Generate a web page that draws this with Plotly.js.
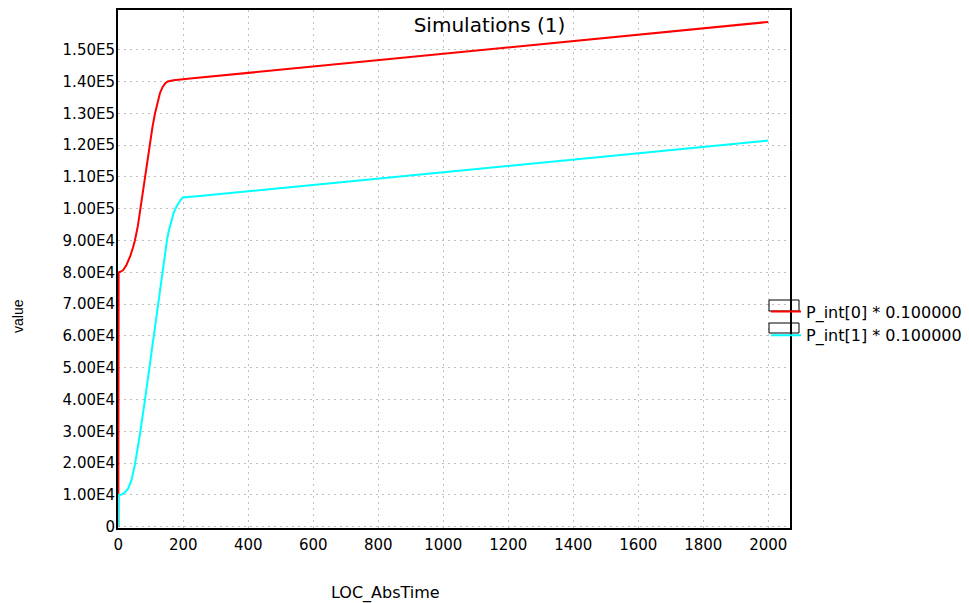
<!DOCTYPE html>
<html>
<head>
<meta charset="utf-8">
<script src="https://cdn.plot.ly/plotly-3.0.1.min.js"></script>
<style>html,body{margin:0;padding:0;background:#fff;}#chart{width:969px;height:603px;}</style>
</head>
<body>
<div id="chart"></div>
<script>
// Series 0: P_int[0] * 0.100000
var tRed = [0, 1, 5, 15, 25, 36, 45, 51, 60, 67, 75, 82, 90, 97.5, 105, 113, 120, 128, 136, 144, 152, 159, 170, 221, 2000];
var vRed = [0, 80000, 80100, 80700, 82300, 84900, 87700, 90000, 94500, 99600, 104800, 110000, 115300, 120600, 125600, 130000, 133400, 136300, 138200, 139400, 140000, 140200, 140400, 140900, 158700];
// Series 1: P_int[1] * 0.100000
var tCyan = [0, 1, 10, 20, 30, 40, 51, 60, 67, 82, 97.5, 113, 128, 143.6, 150, 156, 163, 170, 178, 185, 192, 198, 250, 2000];
var vCyan = [0, 10000, 10150, 10800, 12000, 14500, 19500, 25000, 29400, 39900, 51500, 62900, 74400, 86000, 90300, 93300, 96300, 98600, 100500, 101800, 102800, 103500, 104000, 121400];
var seriesNames = ["P_int[0] * 0.100000", "P_int[1] * 0.100000"];
var seriesColors = ["#ff0000", "#00ffff"];
var yTickVals = [0, 10000, 20000, 30000, 40000, 50000, 60000, 70000, 80000, 90000, 100000, 110000, 120000, 130000, 140000, 150000];
var yTickText = ["0", "1.00E4", "2.00E4", "3.00E4", "4.00E4", "5.00E4", "6.00E4", "7.00E4", "8.00E4", "9.00E4", "1.00E5", "1.10E5", "1.20E5", "1.30E5", "1.40E5", "1.50E5"];
var xTickVals = [0, 200, 400, 600, 800, 1000, 1200, 1400, 1600, 1800, 2000];
var chartTitle = "Simulations (1)";
var xLabel = "LOC_AbsTime";
var yLabel = "value";

var L = 118, R = 790, T = 10, B = 528;
function px(x){ return (x - L) / (R - L); }
function py(y){ return (B - y) / (B - T); }

var traces = [
  {x: tRed, y: vRed, type: 'scatter', mode: 'lines', name: seriesNames[0], line: {color: seriesColors[0], width: 2}},
  {x: tCyan, y: vCyan, type: 'scatter', mode: 'lines', name: seriesNames[1], line: {color: seriesColors[1], width: 2}}
];

var font = "DejaVu Sans, sans-serif";
var layout = {
  width: 969, height: 603,
  margin: {l: L, r: 969 - R, t: T, b: 603 - B, pad: 0, autoexpand: false},
  paper_bgcolor: '#ffffff', plot_bgcolor: '#ffffff',
  font: {family: font, size: 15, color: '#000'},
  title: {text: chartTitle, font: {family: font, size: 20, color: '#000'}, x: 489.5/969, xanchor: 'center', xref: 'container', y: 1 - 25/603, yanchor: 'middle', yref: 'container'},
  showlegend: true,
  legend: {x: px(766), xanchor: 'left', y: py(294.5), yanchor: 'top', bgcolor: 'rgba(0,0,0,0)', borderwidth: 0, font: {family: font, size: 16, color: '#000'}, itemwidth: 30, tracegroupgap: 0},
  xaxis: {
    range: [-1, 2067], tickvals: xTickVals, ticks: '', showline: true, linecolor: '#000', linewidth: 2, mirror: true,
    showgrid: true, gridcolor: '#c0c0c0', griddash: '2px,4px', gridwidth: 1, zeroline: false,
    tickfont: {family: font, size: 15, color: '#000'}, ticklabelstandoff: 2
  },
  yaxis: {
    range: [-380, 162460], tickvals: yTickVals, ticktext: yTickText, ticks: '', showline: true, linecolor: '#000', linewidth: 2, mirror: true,
    showgrid: true, gridcolor: '#c0c0c0', griddash: '2px,4px', gridwidth: 1, zeroline: false,
    tickfont: {family: font, size: 15, color: '#000'}, ticklabelstandoff: -2
  },
  annotations: [
    {text: xLabel, xref: 'paper', yref: 'paper', x: px(385), y: py(593), xanchor: 'center', yanchor: 'middle', showarrow: false, font: {family: font, size: 16, color: '#000'}},
    {text: yLabel, xref: 'paper', yref: 'paper', x: px(18), y: py(316), xanchor: 'center', yanchor: 'middle', textangle: -90, showarrow: false, font: {family: "Liberation Sans, Arial, sans-serif", size: 14, color: '#000'}}
  ],
  shapes: [
    {type: 'rect', xref: 'paper', yref: 'paper', x0: px(769), x1: px(799), y0: py(300), y1: py(311), line: {color: '#000', width: 1}, fillcolor: 'rgba(0,0,0,0)'},
    {type: 'rect', xref: 'paper', yref: 'paper', x0: px(769), x1: px(799), y0: py(323), y1: py(333), line: {color: '#000', width: 1}, fillcolor: 'rgba(0,0,0,0)'}
  ]
};

Plotly.newPlot('chart', traces, layout, {displayModeBar: false, staticPlot: true});
</script>
</body>
</html>
